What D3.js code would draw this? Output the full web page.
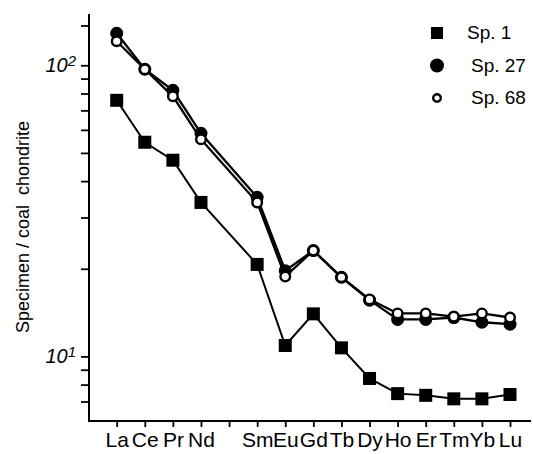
<!DOCTYPE html>
<html>
<head>
<meta charset="utf-8">
<script src="https://cdn.jsdelivr.net/npm/d3@7"></script>
<style>
  body { margin: 0; background: #fff; }
  svg { display: block; }
</style>
</head>
<body>
<div id="chart"></div>
<script>
// REE order, Pm has a tick but no value
const elements = ["La", "Ce", "Pr", "Nd", "Pm", "Sm", "Eu", "Gd", "Tb", "Dy", "Ho", "Er", "Tm", "Yb", "Lu"];

const sp1  = [75.8, 54.4, 47.2, 33.8, null, 20.7, 10.9, 14.0, 10.7, 8.4, 7.45, 7.35, 7.15, 7.15, 7.4];
const sp27 = [128.8, 96.9, 82.0, 58.4, null, 35.2, 19.7, 23.1, 18.7, 15.6, 13.4, 13.4, 13.6, 13.1, 12.9];
const sp68 = [120.9, 96.9, 78.2, 55.7, null, 33.8, 18.8, 23.1, 18.7, 15.7, 14.05, 14.05, 13.7, 14.05, 13.6];

const yTicks = [7, 8, 9, 10, 20, 30, 40, 50, 60, 70, 80, 90, 100, 137];
const yLabelValues = [10, 100];
const yLabelExps = ["1", "2"];

const seriesNames = ["Sp. 1", "Sp. 27", "Sp. 68"];
const seriesShapes = ["square", "dot", "ring"];

const width = 533, height = 454;

const svg = d3.select("#chart").append("svg")
    .attr("width", width)
    .attr("height", height);

const x = d3.scalePoint()
    .domain(elements)
    .range([116.7, 510]);

const y = d3.scaleLog()
    .domain([6, 150])
    .range([421, 14]);

// axes
const xAxis = svg.append("g")
    .attr("transform", `translate(0,${y(6)})`)
    .call(d3.axisBottom(x).tickSize(6).tickPadding(5).tickFormat(d => d === "Pm" ? "" : d));
xAxis.select(".domain").remove();
xAxis.selectAll("line").attr("stroke", "#000").attr("stroke-width", 1.8);
xAxis.selectAll("text")
    .attr("font-family", "Liberation Sans, Arial, sans-serif")
    .attr("font-size", 21)
    .attr("fill", "#000");

const yAxis = svg.append("g")
    .attr("transform", "translate(89,0)")
    .call(d3.axisLeft(y).tickValues(yTicks).tickSize(8).tickFormat(""));
yAxis.select(".domain").remove();
yAxis.selectAll("line").attr("stroke", "#000").attr("stroke-width", 1.8);

svg.append("line")
    .attr("x1", 89).attr("x2", 89)
    .attr("y1", y(150)).attr("y2", y(6) + 1)
    .attr("stroke", "#000").attr("stroke-width", 2);
svg.append("line")
    .attr("x1", 88).attr("x2", 531)
    .attr("y1", y(6)).attr("y2", y(6))
    .attr("stroke", "#000").attr("stroke-width", 2);

// decade labels 10^1, 10^2
yLabelValues.forEach((v, i) => {
  const t = svg.append("text")
      .attr("x", 76)
      .attr("y", y(v) + 7)
      .attr("text-anchor", "end")
      .attr("font-family", "Liberation Sans, Arial, sans-serif")
      .attr("font-style", "italic")
      .attr("font-size", 20);
  t.append("tspan").text("10");
  t.append("tspan").attr("font-size", 15).attr("dy", -6).text(yLabelExps[i]);
});

svg.append("text")
    .attr("transform", `translate(29,227) rotate(-90)`)
    .attr("text-anchor", "middle")
    .attr("font-family", "Liberation Sans, Arial, sans-serif")
    .attr("font-size", 18)
    .attr("xml:space", "preserve")
    .text("Specimen / coal  chondrite");

// lines and markers
const line = d3.line()
    .x(d => x(d.el))
    .y(d => y(d.v));

const allSeries = [sp1, sp27, sp68].map((vals, i) => ({
  name: seriesNames[i],
  shape: seriesShapes[i],
  points: elements.map((el, j) => ({el: el, v: vals[j]})).filter(d => d.v != null)
}));

function drawMarker(g, shape, size) {
  if (shape === "square") {
    g.append("rect")
        .attr("x", -size / 2).attr("y", -size / 2)
        .attr("width", size).attr("height", size)
        .attr("fill", "#000");
  } else if (shape === "dot") {
    g.append("circle").attr("r", size / 2).attr("fill", "#000");
  } else {
    g.append("circle").attr("r", size / 2 - 1.2)
        .attr("fill", "#fff").attr("stroke", "#000").attr("stroke-width", 2.4);
  }
}

allSeries.forEach(s => {
  svg.append("path")
      .datum(s.points)
      .attr("fill", "none")
      .attr("stroke", "#000")
      .attr("stroke-width", s.shape === "square" ? 2 : 2.3)
      .attr("d", line);
});

allSeries.forEach(s => {
  svg.append("g")
    .selectAll("g")
    .data(s.points)
    .join("g")
      .attr("transform", d => `translate(${x(d.el)},${y(d.v)})`)
      .each(function() { drawMarker(d3.select(this), s.shape, s.shape === "ring" ? 12 : 13); });
});

// legend
const legend = svg.append("g");
allSeries.forEach((s, i) => {
  const row = legend.append("g").attr("transform", `translate(437,${33 + i * 32.5})`);
  drawMarker(row, s.shape, s.shape === "square" ? 12 : (s.shape === "dot" ? 14 : 10));
  row.append("text")
      .attr("x", s.shape === "square" ? 30 : 34)
      .attr("y", 6)
      .attr("font-family", "Liberation Sans, Arial, sans-serif")
      .attr("font-size", 19)
      .text(s.name);
});
</script>
</body>
</html>
